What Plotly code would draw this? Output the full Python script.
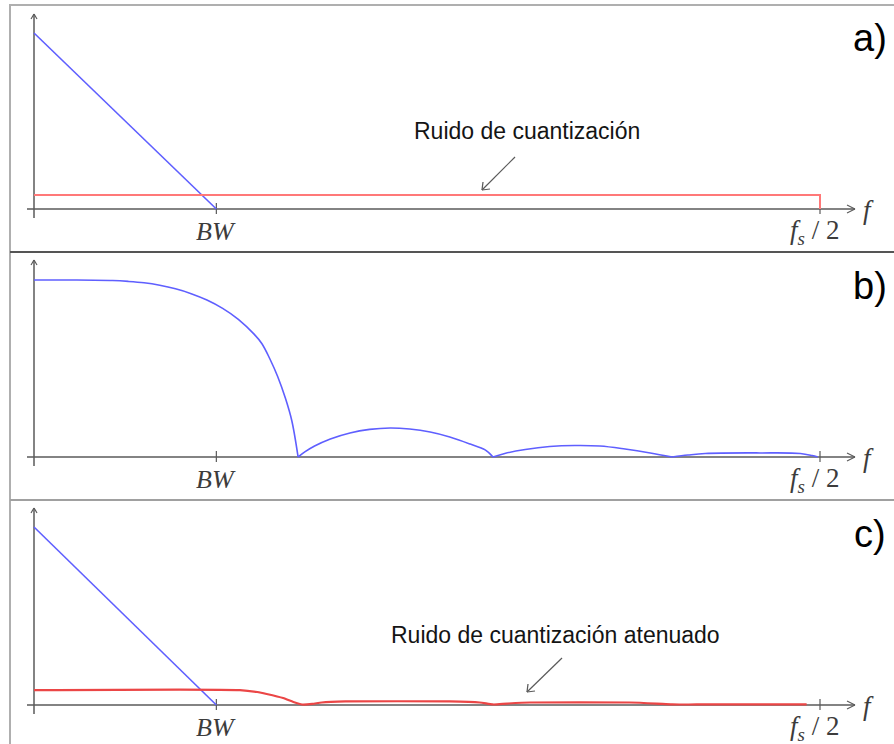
import plotly.graph_objects as go

# ---------------- data (normalized frequency: f/(fs/2)) ----------------
BW = 0.232
FS2 = 1.0

# panel a
sig_a_x = [0.0, BW]
sig_a_y = [1.0, 0.0]
noise_a_x = [0.0, FS2, FS2]
noise_a_y = [0.08, 0.08, 0.0]

# panel b : noise transfer shaped response
ntf_x = [0.000, 0.050, 0.100, 0.120, 0.140, 0.160, 0.180, 0.200, 0.220, 0.240, 0.260, 0.280, 0.290,
         0.300, 0.310, 0.320, 0.328, 0.336,
         0.345, 0.357, 0.377, 0.402, 0.427, 0.453, 0.478, 0.504, 0.529, 0.555, 0.574, 0.584,
         0.599, 0.625, 0.656, 0.688, 0.720, 0.752, 0.784, 0.812,
         0.832, 0.854, 0.924, 0.975, 0.990, 0.997]
ntf_y = [1.000, 1.000, 0.997, 0.992, 0.984, 0.970, 0.950, 0.923, 0.887, 0.840, 0.778, 0.694, 0.640,
         0.555, 0.455, 0.330, 0.205, 0.000,
         0.030, 0.062, 0.102, 0.136, 0.156, 0.164, 0.158, 0.141, 0.113, 0.073, 0.040, 0.000,
         0.020, 0.042, 0.059, 0.065, 0.062, 0.045, 0.023, 0.000,
         0.011, 0.020, 0.023, 0.020, 0.008, 0.000]

# panel c
sig_c_x = [0.0, BW]
sig_c_y = [1.0, 0.0]
noise_c_x = [0.000, 0.262, 0.284, 0.296, 0.317, 0.330, 0.341, 0.354, 0.366, 0.396, 0.529, 0.567, 0.584,
             0.602, 0.631, 0.758, 0.792, 0.812, 0.843, 0.983]
noise_c_y = [0.084, 0.084, 0.073, 0.062, 0.039, 0.017, 0.003, 0.006, 0.014, 0.020, 0.020, 0.014, 0.003,
             0.008, 0.014, 0.014, 0.008, 0.003, 0.003, 0.003]

tick_vals = [BW, FS2]
panel_tags = ["a)", "b)", "c)"]
note_a = "Ruido de cuantización"
note_c = "Ruido de cuantización atenuado"

# ---------------- layout geometry (pixels) ----------------
W, H = 894, 744
X0PX, X1PX = 34, 820           # f=0 and f=fs/2
AXIS_Y = [209, 457, 705]       # baseline pixel of each panel
UNIT = [176, 177, 178]         # pixels per amplitude unit


def px(x):
    return x / W


def py(y):
    return 1 - y / H


kx = (X1PX - X0PX) / FS2
xrange_ = [-X0PX / kx, (W - X0PX) / kx]


def yr(i):
    hi = AXIS_Y[i] / UNIT[i]
    return [hi - H / UNIT[i], hi]


def fx(f):
    return X0PX + f * kx


def split_at_zeros(xs, ys):
    """Split a curve into lobes at its zero (cusp) points."""
    segs, cx, cy = [], [], []
    for i, (a, b) in enumerate(zip(xs, ys)):
        cx.append(a)
        cy.append(b)
        if b == 0 and 0 < i < len(xs) - 1:
            segs.append((cx, cy))
            cx, cy = [a], [b]
    segs.append((cx, cy))
    return segs


BLUE = "rgb(95,95,255)"
RED_A = "rgb(255,120,120)"
RED_C = "rgb(235,70,70)"
AX = "rgb(90,90,90)"

fig = go.Figure()
line_b = dict(color=BLUE, width=1.6)
fig.add_trace(go.Scatter(x=sig_a_x, y=sig_a_y, mode="lines", line=line_b, xaxis="x", yaxis="y"))
fig.add_trace(go.Scatter(x=noise_a_x, y=noise_a_y, mode="lines", line=dict(color=RED_A, width=2),
                         xaxis="x", yaxis="y"))
for sx, sy in split_at_zeros(ntf_x, ntf_y):
    fig.add_trace(go.Scatter(x=sx, y=sy, mode="lines",
                             line=dict(color=BLUE, width=1.6, shape="spline", smoothing=1.0),
                             xaxis="x", yaxis="y2"))
fig.add_trace(go.Scatter(x=sig_c_x, y=sig_c_y, mode="lines", line=line_b, xaxis="x", yaxis="y3"))
fig.add_trace(go.Scatter(x=noise_c_x, y=noise_c_y, mode="lines",
                         line=dict(color=RED_C, width=2.2, shape="spline", smoothing=0.6),
                         xaxis="x", yaxis="y3"))

shapes = []


def seg(x0, y0, x1, y1, color=AX, width=1.5):
    shapes.append(dict(type="line", xref="paper", yref="paper", x0=px(x0), y0=py(y0), x1=px(x1), y1=py(y1),
                       line=dict(color=color, width=width), layer="below"))


# panel frames
seg(10, 5, W, 5, "rgb(175,175,175)", 2)
seg(10, 4, 10, H, "rgb(175,175,175)", 2)
seg(10, 252, W, 252, "rgb(85,85,85)", 2)
seg(10, 500, W, 500, "rgb(160,160,160)", 2)

annotations = []
for i, ay in enumerate(AXIS_Y):
    top = ay - 195 if i == 0 else ay - 197
    # axes
    seg(27, ay, 855, ay)
    seg(X0PX, top, X0PX, ay + 9)
    # arrowheads
    seg(847, ay - 4, 855, ay, AX, 1.2)
    seg(847, ay + 4, 855, ay, AX, 1.2)
    seg(X0PX - 3, top + 5, X0PX, top, AX, 1.2)
    seg(X0PX + 3, top + 5, X0PX, top, AX, 1.2)
    # ticks
    for t in tick_vals:
        seg(fx(t), ay - 6, fx(t), ay + 5, AX, 1.2)
    # tick labels
    annotations.append(dict(x=px(fx(BW)), y=py(ay + 22), xref="paper", yref="paper", text="<i>BW</i>",
                            showarrow=False, xanchor="center", yanchor="middle",
                            font=dict(family="Liberation Serif", size=26, color="rgb(60,60,60)")))
    annotations.append(dict(x=px(fx(FS2) - 6), y=py(ay + 23), xref="paper", yref="paper",
                            text="<i>f</i><sub><i>s</i></sub> / 2",
                            showarrow=False, xanchor="center", yanchor="middle",
                            font=dict(family="Liberation Serif", size=27, color="rgb(60,60,60)")))
    annotations.append(dict(x=px(868), y=py(ay + 1), xref="paper", yref="paper", text="<i>f</i>",
                            showarrow=False, xanchor="center", yanchor="middle",
                            font=dict(family="Liberation Serif", size=27, color="rgb(60,60,60)")))
    annotations.append(dict(x=px(870), y=py(ay - 171), xref="paper", yref="paper", text=panel_tags[i],
                            showarrow=False, xanchor="center", yanchor="middle",
                            font=dict(family="Liberation Sans", size=38, color="black")))

# notes with arrows
annotations.append(dict(x=px(527), y=py(131), xref="paper", yref="paper", text=note_a, showarrow=False,
                        xanchor="center", yanchor="middle",
                        font=dict(family="Liberation Sans", size=23, color="rgb(20,20,20)")))
annotations.append(dict(x=px(555), y=py(635), xref="paper", yref="paper", text=note_c, showarrow=False,
                        xanchor="center", yanchor="middle",
                        font=dict(family="Liberation Sans", size=23, color="rgb(20,20,20)")))


def arrow(xs, ys, xe, ye):
    seg(xs, ys, xe, ye, AX, 1.2)
    seg(xe, ye, xe + 1, ye - 8, AX, 1.2)
    seg(xe, ye, xe + 8, ye - 1, AX, 1.2)


arrow(515, 157, 482, 190)
arrow(562, 658, 527, 692)

fig.update_layout(
    width=W, height=H,
    margin=dict(l=0, r=0, t=0, b=0),
    paper_bgcolor="white", plot_bgcolor="rgba(0,0,0,0)",
    showlegend=False,
    shapes=shapes, annotations=annotations,
    xaxis=dict(range=xrange_, visible=False, domain=[0, 1]),
    yaxis=dict(range=yr(0), visible=False, domain=[0, 1]),
    yaxis2=dict(range=yr(1), visible=False, overlaying="y", anchor="x"),
    yaxis3=dict(range=yr(2), visible=False, overlaying="y", anchor="x"),
)

fig.write_html("out.html")
